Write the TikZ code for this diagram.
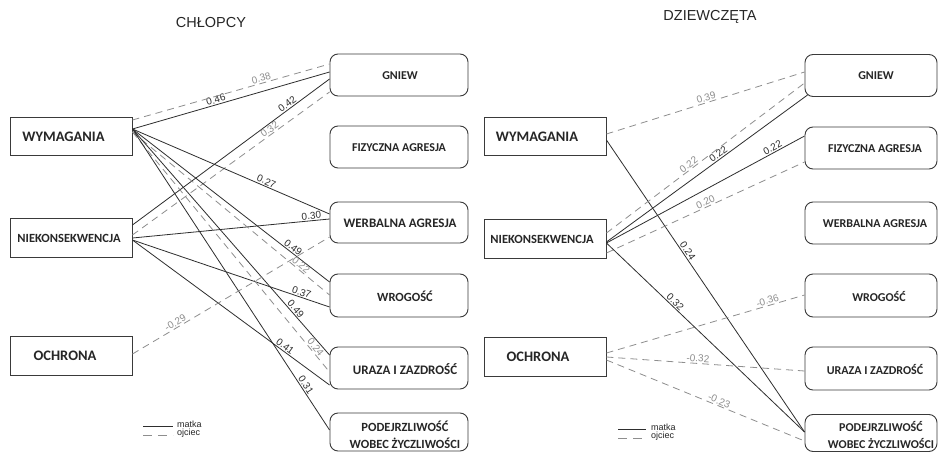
\documentclass[tikz,border=0pt]{standalone}
\usepackage{fontspec}
\setmainfont{Liberation Sans}
\newfontfamily\boxfont{Carlito}
\definecolor{solidc}{HTML}{2E2E2E}
\definecolor{dashc}{HTML}{8E8E8E}
\definecolor{boxc}{HTML}{3A3A3A}
\definecolor{txtc}{HTML}{262626}
\begin{document}
\begin{tikzpicture}[x=1pt,y=-1pt,
  lbox/.style={draw=boxc,line width=0.9pt,minimum width=122pt,inner sep=0pt},
  rbox/.style={draw=boxc,line width=0.9pt,rounded corners=8pt,inner sep=0pt},
  lbl/.style={font=\boxfont\bfseries,text=txtc,inner sep=0pt,align=center},
  sol/.style={draw=solidc,line width=0.8pt},
  dsh/.style={draw=dashc,line width=0.8pt,dash pattern=on 7pt off 5pt},
  nums/.style={font=\fontsize{10}{11}\selectfont,text=solidc,sloped,above,inner sep=1pt},
  numd/.style={font=\fontsize{10}{11}\selectfont,text=dashc,sloped,above,inner sep=1pt},
  ttl/.style={font=\fontsize{14.5}{16}\selectfont,text=txtc},
  leg/.style={font=\fontsize{9}{10}\selectfont,text=txtc,anchor=west,inner sep=0pt}]
\useasboundingbox[fill=white] (0,0) rectangle (938,453);

% titles
\node[ttl] (t1) at (211,23) {CHŁOPCY};
\node[ttl] (t2) at (710,17) {DZIEWCZĘTA};

% ===== left panel boxes =====
\node[lbox,minimum height=38pt] (LW) at (71,136) {};
\node[lbox,minimum height=39pt] (LN) at (71,237.5) {};
\node[lbox,minimum height=39pt] (LO) at (71,355.5) {};
\node[lbl,font=\boxfont\bfseries\fontsize{14.5}{16}\selectfont] (LWt) at (63.5,137) {WYMAGANIA};
\node[lbl,font=\boxfont\bfseries\fontsize{12.5}{14}\selectfont] (LNt) at (69,238) {NIEKONSEKWENCJA};
\node[lbl,font=\boxfont\bfseries\fontsize{14.5}{16}\selectfont] (LOt) at (65,355.5) {OCHRONA};

\node[rbox,minimum width=138pt,minimum height=42pt] (LG) at (399,75) {};
\node[rbox,minimum width=138pt,minimum height=42pt] (LF) at (399,147) {};
\node[rbox,minimum width=138pt,minimum height=41pt] (LV) at (399,222.5) {};
\node[rbox,minimum width=138pt,minimum height=43pt] (LR) at (399,295.5) {};
\node[rbox,minimum width=138pt,minimum height=42pt] (LU) at (399,368) {};
\node[rbox,minimum width=138pt,minimum height=38pt] (LP) at (399,432) {};
\node[lbl,font=\boxfont\bfseries\fontsize{12}{14}\selectfont] (LGt) at (400,75.5) {GNIEW};
\node[lbl,font=\boxfont\bfseries\fontsize{12}{14}\selectfont] (LFt) at (399,147.5) {FIZYCZNA AGRESJA};
\node[lbl,font=\boxfont\bfseries\fontsize{13}{14}\selectfont] (LVt) at (400,223) {WERBALNA AGRESJA};
\node[lbl,font=\boxfont\bfseries\fontsize{12.5}{14}\selectfont] (LRt) at (405,296) {WROGOŚĆ};
\node[lbl,font=\boxfont\bfseries\fontsize{13}{14}\selectfont] (LUt) at (405,369) {URAZA I ZAZDROŚĆ};
\node[lbl,font=\boxfont\bfseries\fontsize{12.5}{17}\selectfont] (LPt) at (405,434.5) {PODEJRZLIWOŚĆ\\WOBEC ŻYCZLIWOŚCI};

% left connectors
\draw[sol] ([yshift=7pt]LW.east) -- ([yshift=3pt]LG.west) node[nums,pos=.43] (n1) {0.46};
\draw[dsh] ([yshift=16pt]LW.east) -- ([yshift=11pt]LG.west) node[numd,pos=.66] (n2) {0.38};
\draw[sol] ([yshift=12.5pt]LN.east) -- ([yshift=-4pt]LG.west) node[nums,pos=.80] (n3) {0.42};
\draw[dsh] ([yshift=2.5pt]LN.east) -- ([yshift=-17pt]LG.west) node[numd,pos=.71] (n4) {0.32};
\draw[sol] ([yshift=7pt]LW.east) -- ([yshift=8.5pt]LV.west) node[nums,pos=.67] (n5) {0.27};
\draw[sol] ([yshift=-0.5pt]LN.east) -- ([yshift=3.5pt]LV.west) node[nums,pos=.91] (n6) {0.30};
\draw[sol] ([yshift=7pt]LW.east) -- ([yshift=13.5pt]LR.west) node[nums,pos=.80] (n7) {0.49};
\draw[dsh] ([yshift=4pt]LW.east) -- ([yshift=0.5pt]LR.west) node[numd,pos=.84] (n8) {0.22};
\draw[sol] ([yshift=-2.5pt]LN.east) -- ([yshift=-11.5pt]LR.west) node[nums,pos=.85] (n9) {0.37};
\draw[sol] ([yshift=7pt]LW.east) -- ([yshift=13pt]LU.west) node[nums,pos=.81] (n10) {0.49};
\draw[dsh] ([yshift=4pt]LW.east) -- ([yshift=-4pt]LU.west) node[numd,pos=.91] (n11) {0.24};
\draw[sol] ([yshift=-2.5pt]LN.east) -- ([yshift=-17pt]LU.west) node[nums,pos=.76] (n12) {0.41};
\draw[sol] ([yshift=7pt]LW.east) -- ([yshift=2pt]LP.west) node[nums,pos=.86] (n13) {0.31};
\draw[dsh] ([yshift=1.5pt]LO.east) -- ([yshift=-14.5pt]LV.west) node[numd,pos=.23] (n14) {-0.29};

% left legend
\coordinate (la1) at (143,426); \coordinate (la2) at (173,426);
\coordinate (lb1) at (143,435); \coordinate (lb2) at (173,435);
\draw[sol] (la1) -- (la2);
\draw[dsh,dash pattern=on 9pt off 6pt] (lb1) -- (lb2);
\node[leg] (lm) at (177,424.5) {matka};
\node[leg] (lo) at (177,433.5) {ojciec};

% ===== right panel boxes =====
\node[lbox,minimum height=38pt] (RW) at (545,136) {};
\node[lbox,minimum height=39pt] (RN) at (545,238.5) {};
\node[lbox,minimum height=39pt] (RO) at (545,356.5) {};
\node[lbl,font=\boxfont\bfseries\fontsize{14.5}{16}\selectfont] (RWt) at (537,137) {WYMAGANIA};
\node[lbl,font=\boxfont\bfseries\fontsize{12.5}{14}\selectfont] (RNt) at (542,239) {NIEKONSEKWENCJA};
\node[lbl,font=\boxfont\bfseries\fontsize{14.5}{16}\selectfont] (ROt) at (538,356.5) {OCHRONA};

\node[rbox,minimum width=132pt,minimum height=42pt] (RG) at (871,75.5) {};
\node[rbox,minimum width=132pt,minimum height=42pt] (RF) at (871,148) {};
\node[rbox,minimum width=132pt,minimum height=42pt] (RV) at (871,223) {};
\node[rbox,minimum width=132pt,minimum height=43pt] (RR) at (871,295.5) {};
\node[rbox,minimum width=132pt,minimum height=43pt] (RU) at (871,368.5) {};
\node[rbox,minimum width=132pt,minimum height=37pt] (RP) at (871,433) {};
\node[lbl,font=\boxfont\bfseries\fontsize{12}{14}\selectfont] (RGt) at (876,76) {GNIEW};
\node[lbl,font=\boxfont\bfseries\fontsize{12}{14}\selectfont] (RFt) at (875,148.5) {FIZYCZNA AGRESJA};
\node[lbl,font=\boxfont\bfseries\fontsize{12}{14}\selectfont] (RVt) at (875,223.5) {WERBALNA AGRESJA};
\node[lbl,font=\boxfont\bfseries\fontsize{12}{14}\selectfont] (RRt) at (879,296) {WROGOŚĆ};
\node[lbl,font=\boxfont\bfseries\fontsize{12}{14}\selectfont] (RUt) at (875,369) {URAZA I ZAZDROŚĆ};
\node[lbl,font=\boxfont\bfseries\fontsize{12}{17}\selectfont] (RPt) at (881,434.5) {PODEJRZLIWOŚĆ\\WOBEC ŻYCZLIWOŚCI};

% right connectors
\draw[dsh] ([yshift=2pt]RW.east) -- ([yshift=3.5pt]RG.west) node[numd,pos=.51] (m1) {0.39};
\draw[sol] ([yshift=-4pt]RW.east) -- ([yshift=1pt]RP.west) node[nums,pos=.39] (m2) {0.24};
\draw[sol] ([yshift=-3.5pt]RN.east) -- ([xshift=3pt,yshift=-19.5pt]RG.west) node[nums,pos=.57] (m3) {0.22};
\draw[dsh] ([yshift=5.5pt]RN.east) -- ([yshift=-7.5pt]RG.west) node[numd,pos=.43] (m4) {0.22};
\draw[sol] ([yshift=-4.5pt]RN.east) -- ([yshift=12pt]RF.west) node[nums,pos=.85] (m5) {0.22};
\draw[dsh] ([yshift=-14.5pt]RN.east) -- ([yshift=-14pt]RF.west) node[numd,pos=.51] (m6) {0.20};
\draw[sol] ([yshift=-4.5pt]RN.east) -- ([yshift=1pt]RP.west) node[nums,pos=.33] (m7) {0.32};
\draw[dsh] ([yshift=3.5pt]RO.east) -- ([yshift=0.5pt]RR.west) node[numd,pos=.82] (m8) {-0.36};
\draw[dsh] ([yshift=-0.5pt]RO.east) -- ([yshift=-2.5pt]RU.west) node[numd,pos=.46] (m9) {-0.32};
\draw[dsh] ([yshift=-3.5pt]RO.east) -- ([yshift=-8pt]RP.west) node[numd,pos=.56] (m10) {-0.23};

% right legend
\coordinate (ra1) at (618,429); \coordinate (ra2) at (646,429);
\coordinate (rb1) at (618,438); \coordinate (rb2) at (646,438);
\draw[sol] (ra1) -- (ra2);
\draw[dsh,dash pattern=on 9pt off 6pt] (rb1) -- (rb2);
\node[leg] (rm) at (651,427.5) {matka};
\node[leg] (ro) at (651,436.5) {ojciec};
\end{tikzpicture}
\end{document}
